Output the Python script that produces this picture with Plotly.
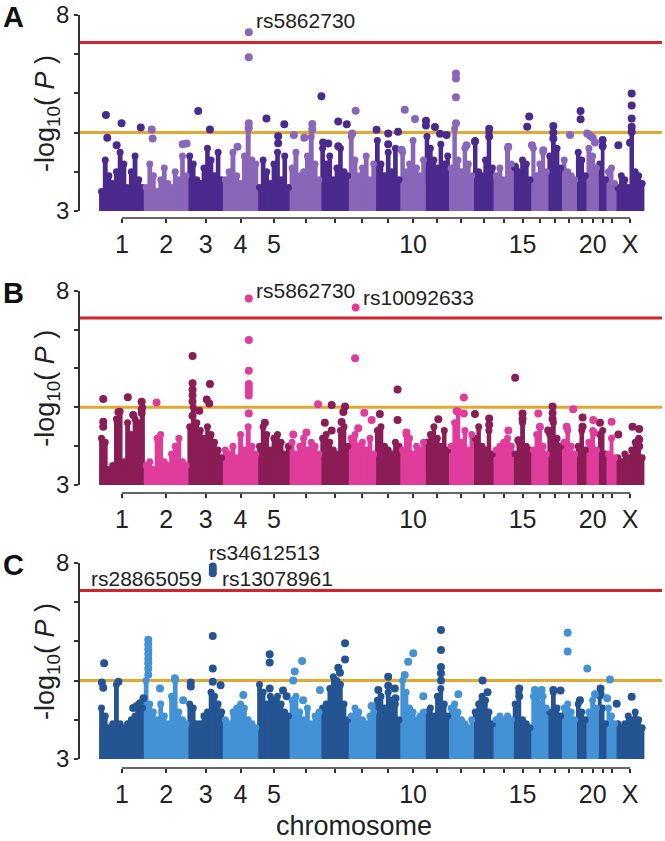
import plotly.graph_objects as go

# ---------------- data ----------------
CHROMS = [str(i) for i in range(1, 23)] + ["X"]
CHR_LEN_MB = [249, 243, 198, 191, 181, 171, 159, 146, 141, 136, 135, 134,
              115, 107, 103, 90, 81, 78, 59, 63, 48, 51, 155]
TICK_TEXT = ["1", "2", "3", "4", "5", "", "", "", "", "10", "", "", "", "",
             "15", "", "", "", "", "20", "", "", "X"]
Y_TICKS = [3, 4, 5, 6, 7, 8]
Y_TICK_TEXT = ["3", "", "", "", "", "8"]
GENOME_WIDE = 7.3
SUGGESTIVE = 5.0

# dense lower band top (-log10 P) for each chromosome
A_BASE = [3.5, 3.45, 3.55, 3.5, 3.45, 3.6, 3.55, 3.5, 3.5, 3.55, 3.6, 3.55,
          3.5, 3.5, 3.45, 3.5, 3.55, 3.5, 3.5, 3.55, 3.5, 3.45, 3.4]
B_BASE = [3.45, 3.45, 3.5, 3.5, 3.45, 3.5, 3.45, 3.5, 3.45, 3.5, 3.5, 3.45,
          3.5, 3.45, 3.45, 3.5, 3.45, 3.45, 3.5, 3.45, 3.45, 3.4, 3.4]
C_BASE = [3.75, 3.8, 3.75, 3.75, 3.8, 3.75, 3.8, 3.75, 3.75, 3.8, 3.75, 3.75,
          3.7, 3.75, 3.7, 3.75, 3.7, 3.75, 3.7, 3.7, 3.7, 3.7, 3.65]

# column (locus cluster) peak heights along each chromosome
A_COLS = [
    [3.5, 4.3, 3.9, 3.7, 4.0, 4.5, 4.2, 3.6, 4.0, 4.4, 3.8, 3.6],
    [3.6, 4.2, 3.9, 3.5, 3.8, 4.1, 3.7, 3.6, 4.0, 3.8, 4.4, 3.9],
    [4.4, 4.2, 3.8, 3.7, 4.1, 4.6, 4.3, 3.9, 4.5, 3.8],
    [3.8, 4.0, 4.5, 3.9, 3.7, 4.4, 5.1, 4.3, 4.2],
    [3.6, 4.3, 4.0, 3.7, 4.2, 4.5, 3.8, 4.4, 3.6],
    [4.1, 4.5, 3.9, 4.0, 4.4, 4.9, 4.2, 3.8],
    [4.6, 4.2, 4.4, 3.8, 4.1, 4.6, 4.0, 3.9],
    [4.9, 4.3, 3.9, 4.1, 4.4, 3.8, 4.2],
    [4.8, 4.2, 3.9, 4.5, 4.0, 4.6, 3.8],
    [4.5, 4.0, 4.2, 4.8, 4.1, 3.9, 4.3],
    [4.9, 4.6, 4.3, 4.1, 4.7, 4.2, 4.4],
    [4.1, 5.1, 4.3, 4.0, 4.6, 4.2, 3.9],
    [4.8, 4.0, 3.9, 4.3, 5.0, 4.1],
    [3.9, 4.1, 3.8, 4.6, 4.2],
    [4.1, 4.0, 4.3, 4.2, 3.8],
    [4.6, 3.9, 4.2, 4.5, 4.0],
    [4.4, 5.0, 4.6, 4.1],
    [4.3, 4.0, 3.9, 3.8],
    [4.5, 4.3, 3.9],
    [4.6, 4.4, 4.1],
    [4.2, 4.8, 3.8],
    [4.0, 4.1, 3.7],
    [3.6, 3.9, 3.8, 3.6, 5.1, 4.0, 3.9, 3.7],
]
B_COLS = [
    [4.2, 4.1, 3.4, 3.5, 4.7, 4.9, 3.6, 4.6, 4.3, 4.7, 4.6, 5.0],
    [3.5, 3.6, 3.4, 4.2, 4.3, 3.6, 3.5, 3.8, 4.0, 4.2, 3.6, 3.5],
    [4.5, 5.0, 4.6, 4.4, 4.2, 4.5, 4.3, 4.1, 3.9, 3.7],
    [3.9, 3.8, 4.0, 3.7, 4.3, 3.9, 4.5, 4.0, 3.8],
    [4.0, 4.5, 4.3, 3.9, 4.2, 4.3, 4.1, 3.8, 4.0],
    [4.1, 3.8, 4.0, 4.2, 3.9, 4.1, 4.0, 3.8],
    [4.2, 4.3, 4.1, 3.9, 3.8, 4.4, 4.5, 4.0],
    [4.2, 4.3, 4.0, 4.1, 3.9, 4.2, 3.8],
    [4.4, 4.5, 4.0, 3.9, 3.8, 4.1, 4.0],
    [3.9, 4.3, 4.2, 3.8, 4.0, 3.9, 4.1],
    [4.1, 4.3, 4.5, 4.2, 4.0, 4.4, 3.9],
    [4.0, 4.6, 4.9, 4.1, 4.4, 3.9, 4.3],
    [4.2, 4.5, 4.0, 3.9, 4.4, 3.8],
    [3.9, 4.0, 4.1, 4.2, 4.0],
    [3.8, 4.1, 4.6, 4.0, 3.9],
    [3.9, 4.3, 4.5, 4.0, 3.8],
    [4.3, 4.6, 4.2, 4.0],
    [4.1, 4.4, 4.0, 3.8],
    [4.0, 4.4, 3.9],
    [4.1, 4.4, 3.9],
    [4.3, 4.4, 3.8],
    [3.8, 4.2, 3.7],
    [3.7, 3.6, 3.8, 3.7, 3.9, 4.1, 4.2, 3.7],
]
C_COLS = [
    [4.3, 4.1, 3.8, 3.9, 4.9, 3.9, 3.8, 3.9, 4.0, 4.1, 4.2, 4.3],
    [5.0, 4.4, 4.2, 4.0, 4.4, 4.1, 3.9, 4.6, 5.0, 4.2, 4.0, 3.9],
    [4.4, 4.3, 3.9, 3.9, 4.1, 4.2, 4.7, 4.6, 4.4, 4.2],
    [4.0, 3.9, 4.2, 4.3, 4.4, 4.3, 4.0, 3.9, 3.8],
    [4.9, 4.7, 4.4, 4.6, 4.5, 4.6, 4.4, 4.2, 4.1],
    [4.5, 4.6, 4.2, 4.0, 4.3, 3.9, 4.1, 4.2],
    [4.3, 4.4, 4.8, 5.1, 5.0, 4.9, 4.4, 4.0],
    [4.1, 4.3, 4.2, 4.0, 3.9, 4.1, 4.2],
    [4.5, 4.6, 4.3, 4.7, 4.5, 4.4, 4.0],
    [5.0, 4.7, 4.3, 4.2, 4.0, 4.1, 4.2],
    [4.2, 4.3, 4.1, 4.6, 4.8, 4.4, 4.1],
    [4.3, 4.4, 4.2, 4.0, 3.9, 3.8, 4.0],
    [4.2, 4.4, 4.6, 4.5, 4.2, 3.9],
    [4.0, 4.1, 4.0, 4.1, 4.0],
    [4.4, 4.7, 4.0, 3.9, 3.8],
    [4.6, 4.5, 4.4, 4.6, 4.3],
    [4.2, 4.7, 4.3, 4.1],
    [4.3, 4.4, 4.2, 4.0],
    [4.4, 4.2, 4.0],
    [4.2, 4.5, 4.3],
    [4.6, 4.3, 3.9],
    [4.3, 4.1, 3.9],
    [3.9, 3.8, 3.9, 4.1, 4.0, 4.2, 4.0, 3.8],
]

# individual SNPs standing out: (chromosome, relative position, -log10 P)
A_DOTS = [
    ("1", 0.14, 5.45), ("1", 0.17, 4.87), ("1", 0.38, 4.68), ("1", 0.49, 5.24), ("1", 0.92, 5.13),
    ("2", 0.17, 5.08), ("2", 0.19, 4.85), ("2", 0.88, 4.70), ("2", 0.97, 4.72),
    ("3", 0.29, 5.55), ("3", 0.62, 5.08),
    ("4", 0.74, 7.56), ("4", 0.74, 6.92), ("4", 0.74, 5.24), ("4", 0.74, 5.12), ("4", 0.41, 4.64),
    ("5", 0.27, 5.36), ("5", 0.63, 4.91), ("5", 0.63, 4.73), ("5", 0.82, 5.21),
    ("6", 0.12, 4.94), ("6", 0.46, 4.87), ("6", 0.72, 5.22), ("6", 0.72, 5.08),
    ("7", 0.02, 5.93), ("7", 0.08, 4.75), ("7", 0.26, 4.72), ("7", 0.61, 5.28), ("7", 0.61, 4.65), ("7", 0.91, 5.21),
    ("8", 0.24, 5.56), ("8", 0.11, 4.98),
    ("9", 0.04, 5.07), ("9", 0.50, 4.98), ("9", 0.50, 4.70), ("9", 0.89, 5.02),
    ("10", 0.16, 5.58), ("10", 0.58, 5.35), ("10", 0.03, 4.56),
    ("11", 0.03, 5.30), ("11", 0.03, 5.18), ("11", 0.40, 5.14), ("11", 0.61, 4.97), ("11", 0.88, 4.94),
    ("12", 0.27, 6.51), ("12", 0.27, 6.38), ("12", 0.27, 5.90), ("12", 0.27, 5.24), ("12", 0.71, 4.68),
    ("13", 0.07, 4.77), ("13", 0.76, 5.10), ("13", 0.76, 4.90),
    ("14", 0.74, 4.64),
    ("15", 0.09, 4.13), ("15", 0.75, 5.15), ("15", 0.86, 5.41),
    ("16", 0.01, 4.68), ("16", 0.71, 4.55),
    ("17", 0.37, 5.17), ("17", 0.37, 5.00), ("17", 0.37, 4.85),
    ("18", 0.54, 4.94),
    ("19", 0.39, 5.55), ("19", 0.39, 5.34),
    ("20", 0.02, 4.98), ("20", 0.26, 4.92), ("20", 0.50, 4.87), ("20", 0.70, 4.75),
    ("21", 0.50, 4.81), ("21", 0.50, 4.65),
    ("X", 0.08, 4.68), ("X", 0.50, 4.74), ("X", 0.56, 6.00), ("X", 0.56, 5.69),
    ("X", 0.56, 5.36), ("X", 0.56, 5.15), ("X", 0.56, 5.02),
]
B_DOTS = [
    ("1", 0.08, 5.21), ("1", 0.08, 4.63), ("1", 0.08, 4.50), ("1", 0.42, 4.88), ("1", 0.63, 5.26),
    ("1", 0.75, 4.80), ("1", 0.94, 5.14), ("1", 0.94, 4.95), ("1", 0.94, 4.85),
    ("2", 0.28, 5.12),
    ("3", 0.13, 6.32), ("3", 0.13, 5.62), ("3", 0.13, 5.45), ("3", 0.13, 5.30), ("3", 0.13, 5.15),
    ("3", 0.13, 4.78), ("3", 0.32, 4.91), ("3", 0.62, 5.60), ("3", 0.53, 5.20), ("3", 0.60, 5.10),
    ("4", 0.74, 7.80), ("4", 0.74, 6.73), ("4", 0.74, 5.94), ("4", 0.74, 5.60), ("4", 0.74, 5.50),
    ("4", 0.74, 5.40), ("4", 0.74, 5.30), ("4", 0.74, 4.84),
    ("5", 0.22, 4.60),
    ("6", 0.10, 4.30), ("6", 0.53, 4.35), ("6", 0.91, 5.08),
    ("7", 0.38, 5.06), ("7", 0.14, 4.60), ("7", 0.38, 4.40), ("7", 0.85, 5.02), ("7", 0.79, 4.88), ("7", 0.73, 4.62),
    ("8", 0.24, 7.57), ("8", 0.22, 6.26), ("8", 0.57, 4.86), ("8", 0.34, 4.46), ("8", 0.85, 4.67),
    ("9", 0.17, 4.83), ("9", 0.87, 5.46), ("9", 0.87, 4.67),
    ("10", 0.23, 4.35),
    ("11", 0.54, 4.69),
    ("12", 0.60, 5.25), ("12", 0.60, 4.84), ("12", 0.30, 4.90),
    ("13", 0.07, 4.83), ("13", 0.76, 4.71), ("13", 0.76, 4.55),
    ("14", 0.74, 4.40),
    ("15", 0.10, 5.76), ("15", 0.50, 4.84), ("15", 0.50, 4.70), ("15", 0.27, 4.15),
    ("16", 0.40, 4.84), ("16", 0.50, 4.50),
    ("17", 0.32, 5.02), ("17", 0.32, 4.85), ("17", 0.32, 4.70), ("17", 0.02, 4.40),
    ("18", 0.30, 4.50), ("18", 0.77, 4.95),
    ("19", 0.58, 4.74), ("19", 0.58, 4.50),
    ("20", 0.55, 4.67), ("20", 0.61, 4.35),
    ("21", 0.19, 4.60),
    ("22", 0.51, 4.63),
    ("X", 0.08, 4.30), ("X", 0.59, 4.50), ("X", 0.83, 4.44), ("X", 0.83, 4.17), ("X", 0.83, 4.00),
]
C_DOTS = [
    ("1", 0.10, 5.44), ("1", 0.05, 4.95), ("1", 0.08, 4.82), ("1", 0.42, 4.97), ("1", 0.75, 4.30),
    ("1", 0.83, 4.35), ("1", 0.90, 4.42), ("1", 0.98, 4.55),
    ("2", 0.09, 6.04), ("2", 0.09, 5.92), ("2", 0.09, 5.80), ("2", 0.09, 5.68), ("2", 0.09, 5.56),
    ("2", 0.09, 5.44), ("2", 0.09, 5.30), ("2", 0.09, 5.15), ("2", 0.36, 4.80), ("2", 0.70, 5.06), ("2", 0.89, 4.50),
    ("3", 0.08, 4.95), ("3", 0.08, 4.85), ("3", 0.70, 6.14), ("3", 0.70, 5.31), ("3", 0.70, 4.97),
    ("3", 0.92, 4.88), ("3", 0.70, 7.91), ("3", 0.70, 7.83), ("3", 0.70, 7.74),
    ("4", 0.58, 4.63),
    ("5", 0.37, 5.67), ("5", 0.37, 5.46), ("5", 0.37, 4.80), ("5", 0.78, 4.75), ("5", 0.89, 4.60),
    ("6", 0.15, 5.23), ("6", 0.39, 5.50), ("6", 0.10, 5.00), ("6", 0.42, 4.50), ("6", 0.97, 4.76),
    ("7", 0.85, 5.95), ("7", 0.85, 5.54), ("7", 0.61, 5.33), ("7", 0.67, 5.20),
    ("8", 0.85, 4.35),
    ("9", 0.50, 5.10), ("9", 0.50, 4.87), ("9", 0.76, 4.80), ("9", 0.79, 4.55), ("9", 0.11, 4.76),
    ("10", 0.51, 5.70), ("10", 0.30, 5.48), ("10", 0.16, 5.14), ("10", 0.92, 4.60),
    ("11", 0.65, 6.29), ("11", 0.65, 5.78), ("11", 0.65, 5.35), ("11", 0.65, 5.19), ("11", 0.65, 5.00),
    ("12", 0.37, 4.65),
    ("13", 0.44, 5.00), ("13", 0.68, 4.70), ("13", 0.44, 4.50),
    ("15", 0.32, 4.80), ("15", 0.32, 4.60),
    ("16", 0.19, 4.76), ("16", 0.61, 4.76), ("16", 0.40, 4.60),
    ("17", 0.37, 4.76), ("17", 0.87, 4.75),
    ("18", 0.37, 6.22), ("18", 0.37, 5.74),
    ("19", 0.33, 4.50),
    ("20", 0.02, 5.31), ("20", 0.70, 4.65),
    ("21", 0.26, 4.80), ("21", 0.26, 4.65),
    ("22", 0.33, 5.03), ("22", 0.02, 4.55),
    ("X", 0.02, 4.41), ("X", 0.56, 4.59),
]

# labelled hits: (label, chromosome, relative position, -log10 P, anchor side, dx, dy)
A_HITS = [("rs5862730", "4", 0.74, 7.56, "left", 5, 12)]
B_HITS = [("rs5862730", "4", 0.74, 7.80, "left", 5, 8),
          ("rs10092633", "8", 0.24, 7.57, "left", 5, 10)]
C_HITS = [("rs34612513", "3", 0.70, 7.91, "left", -6, 14),
          ("rs13078961", "3", 0.70, 7.74, "left", 7, -5),
          ("rs28865059", "3", 0.70, 7.74, "right", -9, -5)]

PANELS = [
    ("A", A_BASE, A_COLS, A_DOTS, A_HITS, "#4b2a8d", "#8966b8"),
    ("B", B_BASE, B_COLS, B_DOTS, B_HITS, "#8a1c56", "#df3c9c"),
    ("C", C_BASE, C_COLS, C_DOTS, C_HITS, "#245592", "#4392d6"),
]

# ---------------- layout geometry ----------------
W, H = 665, 841
FONT = "Liberation Sans, Arial, Helvetica, sans-serif"
X_LEFT_PX, X_RIGHT_PX = 80, 662
PANEL_PX = [(15, 211, 218), (290.7, 485, 493), (563, 759, 768)]  # y=8 px, y=3 px, x-axis line px

starts = []
acc = 0
for L in CHR_LEN_MB:
    starts.append(acc)
    acc += L
centers = [s + L / 2 for s, L in zip(starts, CHR_LEN_MB)]
idx = {c: i for i, c in enumerate(CHROMS)}

px_per_mb = (630 - 122) / (centers[-1] - centers[0])
x0 = centers[0] - (122 - X_LEFT_PX) / px_per_mb
x1 = centers[0] + (X_RIGHT_PX - 122) / px_per_mb

fig = go.Figure()
shapes = []
annotations = []
layout = {}

for p, (letter, base, cols, dots, hits, dark, light) in enumerate(PANELS):
    n = "" if p == 0 else str(p + 1)
    xa, ya = "x" + n, "y" + n
    top_px, bot_px, axis_px = PANEL_PX[p]

    for parity, color in ((0, dark), (1, light)):
        bx, by, bw = [], [], []
        tx, ty = [], []
        dx_, dy_ = [], []
        for i, c in enumerate(CHROMS):
            if i % 2 != parity:
                continue
            bx.append(centers[i]); by.append(base[i] - 3); bw.append(CHR_LEN_MB[i])
            hs = cols[i]
            step = CHR_LEN_MB[i] / len(hs)
            for j, h in enumerate(hs):
                xc = starts[i] + (j + 0.5) * step
                bx.append(xc); by.append(h - 3); bw.append(step * 1.3)
                tx.append(xc); ty.append(h)
        fig.add_trace(go.Bar(x=bx, y=by, base=3, width=bw, marker_color=color,
                             marker_line_width=0, xaxis=xa, yaxis=ya,
                             showlegend=False, hoverinfo="skip"))
        fig.add_trace(go.Scatter(x=tx, y=ty, mode="markers",
                                 marker=dict(color=color, size=7, line_width=0),
                                 xaxis=xa, yaxis=ya, cliponaxis=False,
                                 showlegend=False, hoverinfo="skip"))
        for c, f, v in dots:
            i = idx[c]
            if i % 2 != parity:
                continue
            dx_.append(starts[i] + f * CHR_LEN_MB[i]); dy_.append(v)
        fig.add_trace(go.Scatter(x=dx_, y=dy_, mode="markers",
                                 marker=dict(color=color, size=8, line_width=0),
                                 xaxis=xa, yaxis=ya, cliponaxis=False,
                                 showlegend=False, hoverinfo="skip"))

    ydom = [1 - bot_px / H, 1 - top_px / H]
    axis_y = 1 - axis_px / H
    layout["xaxis" + n] = dict(
        domain=[X_LEFT_PX / W, X_RIGHT_PX / W], range=[x0, x1], anchor="free",
        position=axis_y, automargin=False, showline=False, showgrid=False, zeroline=False,
        tickmode="array", tickvals=centers, ticktext=TICK_TEXT, ticks="outside",
        ticklen=4, tickwidth=1.5, tickcolor="#333",
        tickfont=dict(family=FONT, size=25, color="#222"), fixedrange=True)
    layout["yaxis" + n] = dict(
        domain=ydom, range=[3, 8], anchor=xa, automargin=False, showline=True, linewidth=1.5,
        linecolor="#333", showgrid=False, zeroline=False, tickmode="array",
        tickvals=Y_TICKS, ticktext=Y_TICK_TEXT, ticks="outside", ticklen=4,
        tickwidth=1.5, tickcolor="#333",
        tickfont=dict(family=FONT, size=24, color="#222"), fixedrange=True)

    shapes.append(dict(type="line", xref=xa, yref="paper", x0=centers[0], x1=centers[-1],
                       y0=axis_y, y1=axis_y, line=dict(color="#333", width=1.5)))
    for yv, col in ((GENOME_WIDE, "#d3232b"), (SUGGESTIVE, "#e2a82f")):
        shapes.append(dict(type="line", xref=xa + " domain", yref=ya, x0=0, x1=1,
                           y0=yv, y1=yv, line=dict(color=col, width=3), layer="below"))

    annotations.append(dict(text="<b>%s</b>" % letter, xref="paper", yref="paper",
                            x=13.5 / W, y=1 - (top_px + 2) / H, showarrow=False,
                            xanchor="center", yanchor="middle",
                            font=dict(family=FONT, size=29, color="#111")))
    annotations.append(dict(text="-log<sub>10</sub>( <i>P</i> )", xref="paper", yref="paper",
                            x=47 / W, y=1 - ((top_px + bot_px) / 2 + 1) / H,
                            textangle=-90, showarrow=False, xanchor="center",
                            yanchor="middle",
                            font=dict(family=FONT, size=27, color="#222")))
    for lab, c, f, v, side, dx, dy in hits:
        i = idx[c]
        annotations.append(dict(text=lab, xref=xa, yref=ya,
                                x=starts[i] + f * CHR_LEN_MB[i], y=v, showarrow=False,
                                xanchor=side, yanchor="middle", xshift=dx, yshift=dy,
                                font=dict(family=FONT, size=21, color="#222")))

annotations.append(dict(text="chromosome", xref="paper", yref="paper",
                        x=354 / W, y=1 - 826 / H, showarrow=False, xanchor="center",
                        yanchor="middle", font=dict(family=FONT, size=27, color="#222")))

fig.update_layout(
    template="none",
    width=W, height=H, margin=dict(l=0, r=0, t=0, b=0, autoexpand=False),
    paper_bgcolor="white", plot_bgcolor="white", barmode="overlay",
    shapes=shapes, annotations=annotations, showlegend=False,
    font=dict(family=FONT), **layout)

fig.write_html("out.html", config={"displayModeBar": False},
               post_script="document.body.style.margin='0';document.body.style.padding='0';"
                           "document.body.style.overflow='hidden';")
